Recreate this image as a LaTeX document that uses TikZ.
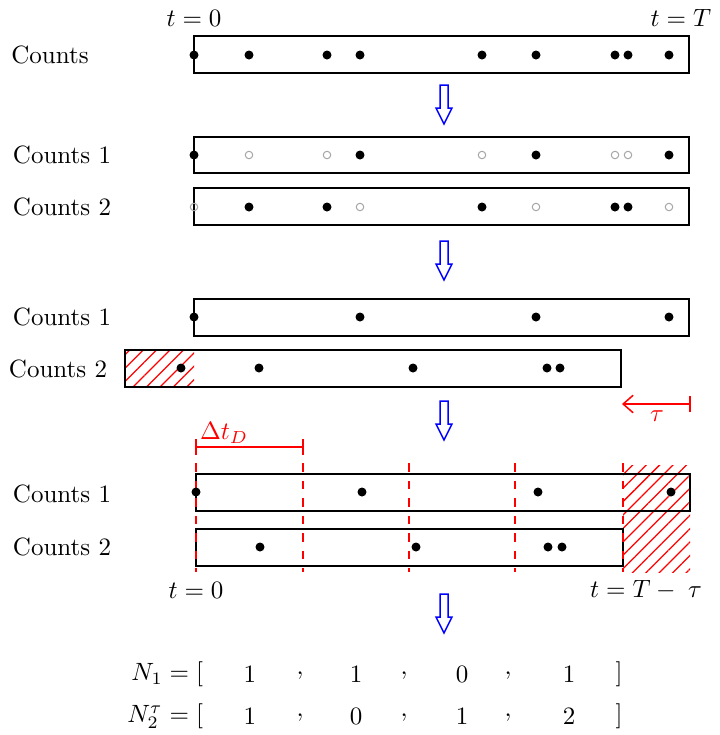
\documentclass[tikz,border=0pt]{standalone}
\usetikzlibrary{patterns.meta, arrows.meta}
\begin{document}
\begin{tikzpicture}[x=0.4pt, y=-0.4pt, >={Straight Barb[length=4pt, width=7pt]}]
\tikzset{
  countbox/.style={semithick},
  hit/.style={fill=black},
  miss/.style={draw=gray!70, thin},
  cut/.style={pattern={Lines[angle=45, distance=3.8pt, line width=0.5pt]}, pattern color=red},
  redmark/.style={red, semithick},
  flow/.style={draw=blue, semithick},
  rowlbl/.style={anchor=center}
}
\useasboundingbox (0,0) rectangle (720,735);

% original counts
\node (t00) at (194,18) {$t=0$};
\node[anchor=east] (tT) at (720,18) {$t=T$};
\node[rowlbl] (lc) at (50,55) {Counts};
\draw[countbox] (194,36) rectangle (689,73);
\foreach \x in {194,249,327,360,482,536,615,628,669}
  \fill[hit] (\x,55) circle (1.8pt);

% split into two channels
\node[rowlbl] (lc1) at (62,155) {Counts 1};
\node[rowlbl] (lc2) at (62,207) {Counts 2};
\draw[countbox] (194,137) rectangle (689,173);
\draw[countbox] (194,188) rectangle (689,225);
\foreach \x in {194,360,536,669} {
  \fill[hit] (\x,155) circle (1.8pt);
  \draw[miss] (\x,207) circle (1.5pt);
}
\foreach \x in {249,327,482,615,628} {
  \draw[miss] (\x,155) circle (1.5pt);
  \fill[hit] (\x,207) circle (1.8pt);
}

% shift channel 2 by tau
\node[rowlbl] (ld1) at (62,317) {Counts 1};
\node[rowlbl] (ld2) at (58,369) {Counts 2};
\fill[cut] (125,350) rectangle (194,387);
\draw[countbox] (194,299) rectangle (689,336);
\draw[countbox] (125,350) rectangle (621,387);
\foreach \x in {194,360,536,669}
  \fill[hit] (\x,317) circle (1.8pt);
\foreach \x in {181,259,413,547,560}
  \fill[hit] (\x,368) circle (1.8pt);
\coordinate (tauA) at (690,404);
\coordinate (tauB) at (622,404);
\draw[redmark] (690,396) -- (690,412);
\draw[redmark, ->] (tauA) -- (tauB);
\node[red] (tau) at (657,416) {$\tau$};

% binning
\coordinate (dA) at (196,447);
\coordinate (dB) at (303,447);
\draw[redmark] (dA) -- (dB);
\draw[redmark] (196,439) -- (196,455) (303,439) -- (303,455);
\node[red] (dt) at (224,433) {$\Delta t_D$};
\fill[cut] (623,465) rectangle (690,572);
\node[rowlbl] (le1) at (62,494) {Counts 1};
\node[rowlbl] (le2) at (62,547) {Counts 2};
\draw[countbox] (196,474) rectangle (690,511);
\draw[countbox] (196,529) rectangle (623,566);
\foreach \x in {196,303,409,515,623}
  \draw[red, semithick, dash pattern=on 3.5pt off 3.5pt] (\x,463) -- (\x,572);
\foreach \x in {196,362,538,671}
  \fill[hit] (\x,492) circle (1.8pt);
\foreach \x in {260,416,548,562}
  \fill[hit] (\x,547) circle (1.8pt);
\node (t0) at (196,590) {$t=0$};
\node (tTt) at (646,590) {$t=T-\;\tau$};

% flow arrows
\foreach \y in {85,241,401,594}
  \draw[flow] (440,\y) -- (448,\y) -- (448,\y+23) -- (452,\y+23)
    -- (444,\y+39) -- (436,\y+23) -- (440,\y+23) -- cycle;

% binned counts
\node[anchor=east, inner sep=1pt] (n1) at (206,674) {$N_1=[$};
\node[anchor=east, inner sep=1pt] (n2) at (206,716) {$N_2^\tau=[$};
\foreach \x/\a/\b in {250/1/1, 356/1/0, 462/0/1, 569/1/2} {
  \node at (\x,674) {$\a$};
  \node at (\x,716) {$\b$};
}
\foreach \x in {300,404,508} {
  \node at (\x,676) {$,$};
  \node at (\x,718) {$,$};
}
\node (r1) at (619,674) {$]$};
\node (r2) at (619,716) {$]$};
\end{tikzpicture}
\end{document}
